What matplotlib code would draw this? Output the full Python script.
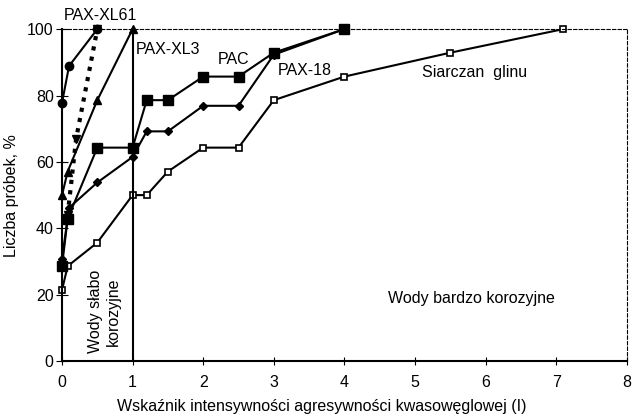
import matplotlib
matplotlib.use('Agg')
import matplotlib.pyplot as plt

plt.rcParams['font.family'] = ['Liberation Sans', 'DejaVu Sans']

# dane
xl61_x = [0, 0.1, 0.5]
xl61_y = [77.8, 88.9, 100]

xl3_x = [0, 0.08, 0.5, 1]
xl3_y = [50, 57.1, 78.6, 100]

dotted_x = [0.08, 0.2, 0.5]
dotted_y = [44, 67, 100]

pac_x = [0, 0.08, 0.5, 1, 1.2, 1.5, 2, 2.5, 3, 4]
pac_y = [28.6, 42.9, 64.3, 64.3, 78.6, 78.6, 85.7, 85.7, 92.9, 100]

pax18_x = [0, 0.1, 0.5, 1, 1.2, 1.5, 2, 2.5, 3, 4]
pax18_y = [30.8, 46.2, 53.8, 61.5, 69.2, 69.2, 76.9, 76.9, 92.3, 100]

siarczan_x = [0, 0.08, 0.5, 1, 1.2, 1.5, 2, 2.5, 3, 4, 5.5, 7.1]
siarczan_y = [21.4, 28.6, 35.7, 50, 50, 57.1, 64.3, 64.3, 78.6, 85.7, 92.9, 100]

fs = 11.5

fig = plt.figure(figsize=(6.36, 4.16), dpi=100)
ax = fig.add_axes([0.0975, 0.132, 0.888, 0.798])

ax.plot(siarczan_x, siarczan_y, '-s', color='black', lw=1.5, ms=5,
        mfc='white', mec='black', mew=1.2, clip_on=False)
ax.plot(pax18_x, pax18_y, '-D', color='black', lw=1.5, ms=4.5, clip_on=False)
ax.plot(pac_x, pac_y, '-s', color='black', lw=1.5, ms=6.5, clip_on=False)
ax.plot(xl3_x, xl3_y, '-^', color='black', lw=1.5, ms=6, clip_on=False)
ax.plot(dotted_x, dotted_y, 'v', color='black', ls=(0, (1, 1.5)), lw=3, ms=6,
        clip_on=False)
ax.plot(xl61_x, xl61_y, '-o', color='black', lw=1.5, ms=6, clip_on=False)

ax.axvline(1, color='black', lw=1.5)

ax.text(0.55, 104, 'PAX-XL61', fontsize=fs, ha='center', va='center')
ax.text(1.04, 94, 'PAX-XL3', fontsize=fs, ha='left', va='center')
ax.text(2.2, 90.7, 'PAC', fontsize=fs, ha='left', va='center')
ax.text(3.05, 87.5, 'PAX-18', fontsize=fs, ha='left', va='center')
ax.text(5.1, 87, 'Siarczan  glinu', fontsize=fs, ha='left', va='center')
ax.text(0.6, 2.4, 'Wody słabo\nkorozyjne', fontsize=fs, rotation=90,
        ha='center', va='bottom', linespacing=1.3)
ax.text(5.8, 19, 'Wody bardzo korozyjne', fontsize=fs, ha='center', va='center')

ax.set_xlim(0, 8)
ax.set_ylim(0, 100)
ax.set_xticks(range(0, 9))
ax.set_yticks(range(0, 101, 20))
ax.tick_params(axis='y', direction='inout', length=8, labelsize=fs, pad=2)
ax.tick_params(axis='x', direction='inout', length=6, labelsize=fs, pad=7)

for side in ['top', 'right']:
    ax.spines[side].set_linestyle((0, (3, 2)))
    ax.spines[side].set_linewidth(0.8)
for side in ['left', 'bottom']:
    ax.spines[side].set_linewidth(1.5)

ax.set_xlabel('Wskaźnik intensywności agresywności kwasowęglowej (I)', fontsize=fs)
ax.xaxis.set_label_coords(0.46, -0.115)
ax.set_ylabel('Liczba próbek, %', fontsize=fs, labelpad=6)

fig.savefig('out.png', dpi=100)
